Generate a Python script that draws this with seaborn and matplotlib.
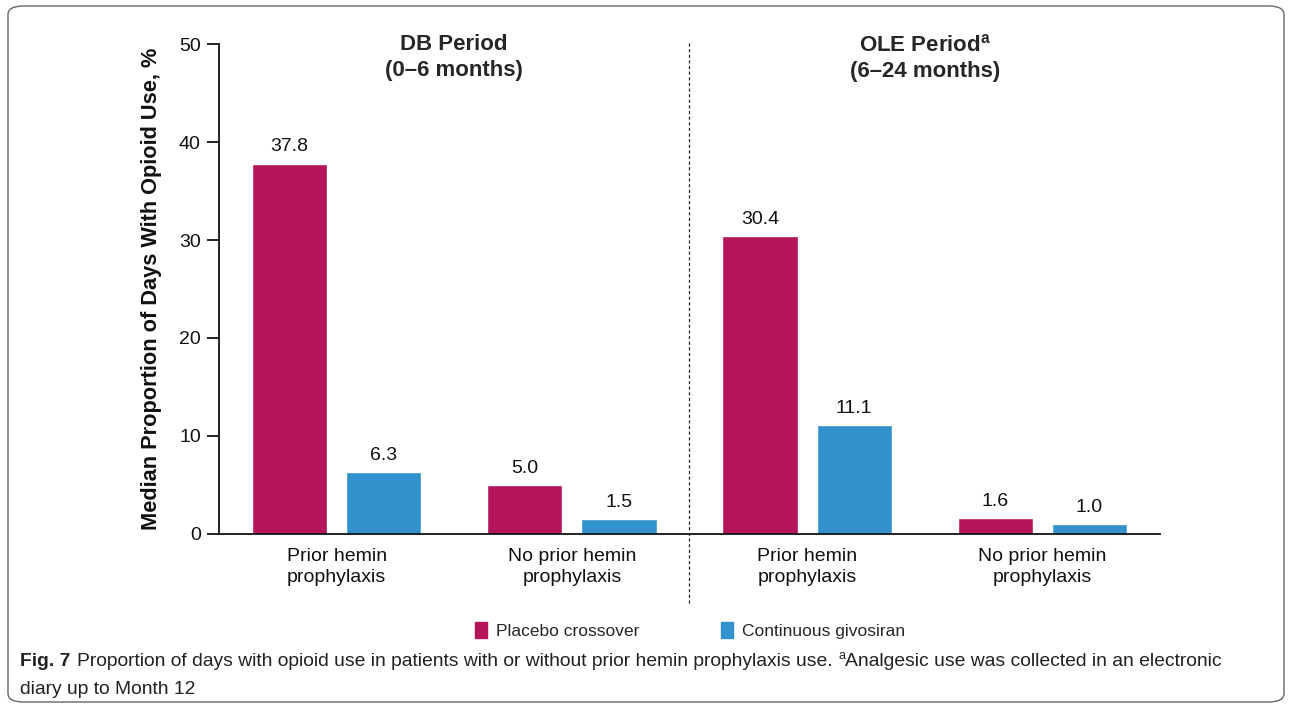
import matplotlib
matplotlib.use('Agg')
import matplotlib.pyplot as plt
from matplotlib.patches import FancyBboxPatch
import seaborn as sns
import pandas as pd

# Chart values
slots = ['DB prior', 'DB no prior', 'OLE prior', 'OLE no prior']
slot_labels = ['Prior hemin\nprophylaxis', 'No prior hemin\nprophylaxis',
               'Prior hemin\nprophylaxis', 'No prior hemin\nprophylaxis']
groups = ['Placebo crossover', 'Continuous givosiran']
placebo = [37.8, 5.0, 30.4, 1.6]
givosiran = [6.3, 1.5, 11.1, 1.0]
colors = ['#B3145A', '#3292CE']

df = pd.DataFrame({
    'Slot': slots * 2,
    'Group': [groups[0]] * 4 + [groups[1]] * 4,
    'Value': placebo + givosiran,
})

sns.set_theme(style='ticks')
plt.rcParams['font.family'] = ['Liberation Sans', 'DejaVu Sans']
plt.rcParams['mathtext.fontset'] = 'custom'
plt.rcParams['mathtext.rm'] = 'Liberation Sans'
plt.rcParams['mathtext.bf'] = 'Liberation Sans:bold'

fig = plt.figure(figsize=(12.92, 7.08), dpi=100)
ax = fig.add_axes([0.1695, 0.2458, 0.7283, 0.692])

sns.barplot(data=df, x='Slot', y='Value', hue='Group', order=slots,
            hue_order=groups, palette=colors, width=0.8, gap=0.2,
            saturation=1, ax=ax, legend=False)

for cont in ax.containers:
    ax.bar_label(cont, fmt='%.1f', padding=6, fontsize=14, color='#111111')

ax.set_ylim(0, 50)
ax.set_yticks([0, 10, 20, 30, 40, 50])
ax.set_xlim(-0.5, 3.5)
ax.set_xticks(range(len(slots)))
ax.set_xticklabels(slot_labels, linespacing=1.3)
ax.tick_params(axis='x', length=0, pad=10, labelsize=14, colors='#111111')
ax.tick_params(axis='y', length=8.6, width=1.3, pad=4.5, labelsize=14,
               colors='#111111')
ax.set_xlabel('')
ax.set_ylabel('Median Proportion of Days With Opioid Use, %', fontsize=15.7,
              fontweight='bold', labelpad=12, color='#111111')
for side in ['top', 'right']:
    ax.spines[side].set_visible(False)
for side in ['left', 'bottom']:
    ax.spines[side].set_linewidth(1.3)
    ax.spines[side].set_color('#111111')

# period divider
ax.axvline(1.5, ymin=-0.141, ymax=1.004, color='#222222', lw=0.9,
           ls=(0, (2.5, 2)), clip_on=False)

# period headers
ax.text(0.5, 1.02, 'DB Period\n(0–6 months)', transform=ax.get_xaxis_transform(),
        ha='center', va='top', fontsize=16, fontweight='bold', linespacing=1.3)
ax.text(2.5, 1.02, 'OLE Period$^{\\mathbf{a}}$\n(6–24 months)',
        transform=ax.get_xaxis_transform(), ha='center', va='top',
        fontsize=16, fontweight='bold', linespacing=1.3)

# legend
handles = [plt.Rectangle((0, 0), 1, 1, color=c) for c in colors]
fig.legend(handles, groups, loc='center', bbox_to_anchor=(0.534, 0.110),
           ncol=2, frameon=False, fontsize=12.5, handlelength=0.7,
           handleheight=1.1, handletextpad=0.5, columnspacing=4.7)

# rounded frame
frame = FancyBboxPatch((8 / 1292, 6 / 708), 1276 / 1292, 696 / 708,
                       boxstyle='round,pad=0,rounding_size=0.012',
                       transform=fig.transFigure, fill=False,
                       edgecolor='#666666', lw=1.0)
fig.patches.append(frame)

# caption built from pieces
cap_font = ['Liberation Sans Narrow', 'Liberation Sans', 'DejaVu Sans']
cap_size = 13.9
fig.canvas.draw()
renderer = fig.canvas.get_renderer()
x0, y1, y2 = 20 / 1292, 1 - 662 / 708, 1 - 690 / 708


def put(x, y, s, **kw):
    t = fig.text(x, y, s, va='center', ha='left', family=cap_font,
                 color='#222222', **kw)
    bb = t.get_window_extent(renderer)
    return x + bb.width / 1292


x = put(x0, y1, 'Fig. 7', fontsize=cap_size, fontweight='bold')
x = put(x + 7 / 1292, y1, 'Proportion of days with opioid use in patients with or '
        'without prior hemin prophylaxis use. ', fontsize=cap_size)
x = put(x, y1 + 6 / 708, 'a', fontsize=cap_size * 0.65)
put(x, y1, 'Analgesic use was collected in an electronic', fontsize=cap_size)
put(x0, y2, 'diary up to Month 12', fontsize=cap_size)

fig.savefig('out.png', dpi=100)
